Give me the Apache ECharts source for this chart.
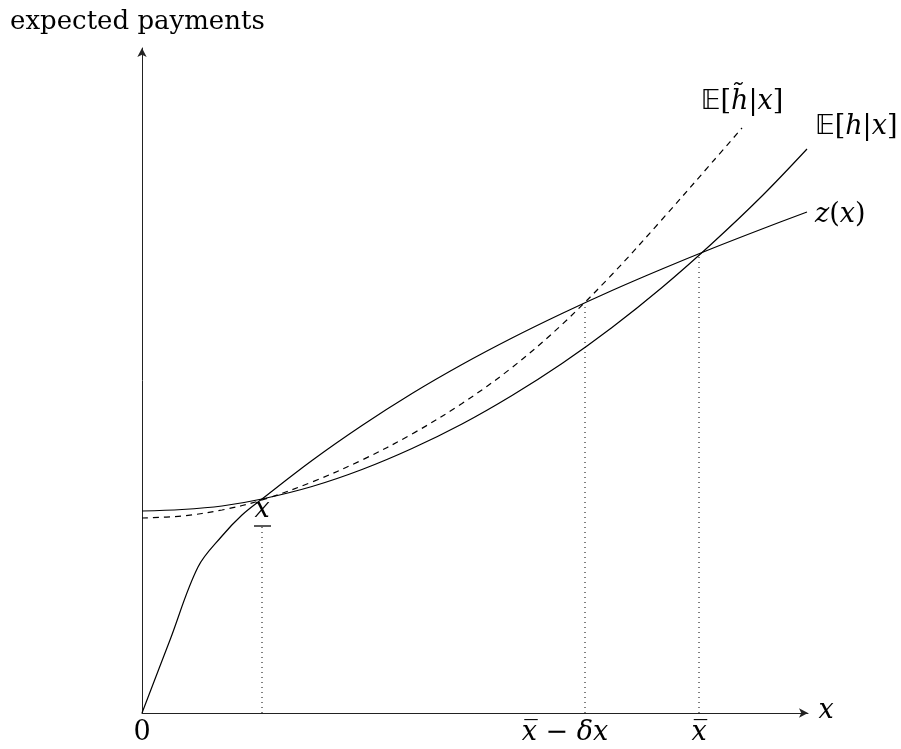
<!DOCTYPE html>
<html>
<head>
<meta charset="utf-8">
<script src="https://cdn.jsdelivr.net/npm/echarts@6/dist/echarts.min.js"></script>
<style>html,body{margin:0;padding:0;background:#fff}#c{width:901px;height:749px}</style>
</head>
<body>
<div id="c"></div>
<script>
// Data (abstract units)
var zX = [0, 28, 56, 80, 100, 120, 170, 220, 270, 320, 370, 420, 470, 520, 570, 620, 665];
var zY = [0, 73, 146, 177, 198, 214, 252.5, 287.5, 319.5, 348.5, 375, 399.5, 422.5, 444, 464.5, 484, 501];
var hX = [0, 40, 80, 120, 170, 220, 270, 320, 370, 420, 470, 520, 570, 620, 665];
var hY = [202, 203.5, 207, 214, 226.5, 243.5, 264.5, 289, 317.5, 349.5, 385.5, 425.5, 469.5, 517, 564];
var htX = [0, 40, 80, 120, 170, 220, 270, 320, 370, 420, 470, 520, 570, 600];
var htY = [195, 197, 203, 213, 231, 253, 279, 309.5, 345.5, 388.5, 438.5, 493.5, 550.5, 585];
var xLow = 120, xLowTop = 186;
var xMid = 443, xMidTop = 409;
var xBar = 557, xBarTop = 460;
var xMax = 666, yMax = 665;

function pairs(xs, ys) { return xs.map(function (x, i) { return [x, ys[i]]; }); }

var chart = echarts.init(document.getElementById('c'));
var black = '#000';
var axisCommon = {
  type: 'value', min: 0, splitLine: {show: false}, axisTick: {show: false}, axisLabel: {show: false},
  axisLine: {show: true, lineStyle: {color: '#222', width: 1}, symbol: ['none', 'arrow'], symbolSize: [7, 9]}
};
var curve = {type: 'line', smooth: 0.35, showSymbol: false};
chart.setOption({
  animation: false,
  grid: {left: 142, right: 93, top: 48, bottom: 36},
  xAxis: Object.assign({}, axisCommon, {max: xMax}),
  yAxis: Object.assign({}, axisCommon, {max: yMax}),
  series: [
    Object.assign({}, curve, {name: 'z', data: pairs(zX, zY), lineStyle: {color: black, width: 1.2}}),
    Object.assign({}, curve, {name: 'h', data: pairs(hX, hY), lineStyle: {color: black, width: 1.2}}),
    Object.assign({}, curve, {name: 'ht', data: pairs(htX, htY), lineStyle: {color: black, width: 1.2, type: [6, 5]}}),
    {type: 'line', data: [[xLow, 0], [xLow, xLowTop]], showSymbol: false, lineStyle: {color: black, width: 1, type: [1, 4]}},
    {type: 'line', data: [[xMid, 0], [xMid, xMidTop]], showSymbol: false, lineStyle: {color: black, width: 1, type: [1, 4]}},
    {type: 'line', data: [[xBar, 0], [xBar, xBarTop]], showSymbol: false, lineStyle: {color: black, width: 1, type: [1, 4]}}
  ]
});

var serif = '"DejaVu Serif", serif';
var FS = 27;
var rich = {
  it: {fontFamily: serif, fontStyle: 'italic', fontSize: FS, color: black},
  rm: {fontFamily: serif, fontSize: FS, color: black},
  bb: {fontFamily: '"DejaVu Sans", sans-serif', fontSize: FS, color: black}
};
function P(x, y) { return chart.convertToPixel({gridIndex: 0}, [x, y]); }
function txt(pt, dx, dy, text, align) {
  return {type: 'text', x: pt[0] + dx, y: pt[1] + dy,
    style: {text: text, rich: rich, align: align || 'center', verticalAlign: 'middle', fill: black, font: FS + 'px ' + serif}};
}
var zEnd = P(zX[zX.length - 1], zY[zY.length - 1]);
var hEnd = P(hX[hX.length - 1], hY[hY.length - 1]);
var htEnd = P(htX[htX.length - 1], htY[htY.length - 1]);
var o = P(0, 0);
var lowPt = P(xLow, xLowTop);
var g = [
  {type: 'text', x: 10, y: 22, style: {text: 'expected payments', font: '26px ' + serif, fill: black, align: 'left', verticalAlign: 'middle'}},
  txt(o, 0, 20, '{rm|0}'),
  txt(P(xMax, 0), 18, -2, '{it|x}', 'center'),
  txt(lowPt, 0, -17, '{it|x}'),
  {type: 'line', shape: {x1: lowPt[0] - 8, y1: lowPt[1] - 1, x2: lowPt[0] + 9, y2: lowPt[1] - 1}, style: {stroke: black, lineWidth: 1.3}},
  txt(P(xMid, 0), -20, 20, '{it|x\u0305} {rm|\u2212} {it|\u03b4x}'),
  txt(P(xBar, 0), 0, 20, '{it|x\u0305}'),
  txt(zEnd, 8, 3, '{it|z}{rm|(}{it|x}{rm|)}', 'left'),
  txt(hEnd, 8, -22, '{bb|\ud835\udd3c}{rm|[}{it|h}{rm||}{it|x}{rm|]}', 'left'),
  txt(htEnd, 0, -26, '{bb|\ud835\udd3c}{rm|[}{it|h\u0303}{rm||}{it|x}{rm|]}')
];
chart.setOption({graphic: g});
</script>
</body>
</html>
